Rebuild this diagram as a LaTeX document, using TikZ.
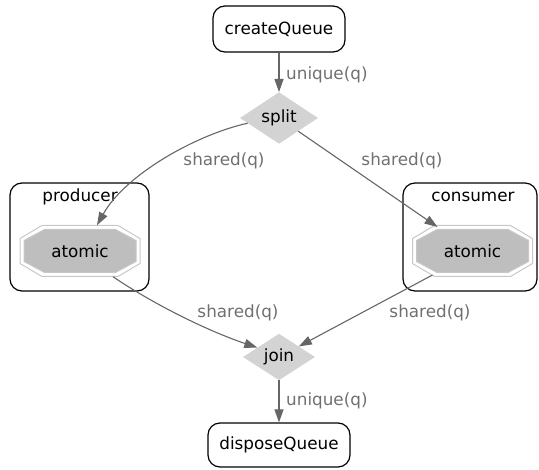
\documentclass[tikz,border=0pt]{standalone}
\usepackage{fontspec}
\setmainfont{DejaVu Sans}
\usetikzlibrary{shapes.geometric,arrows.meta,calc}
\definecolor{edgec}{HTML}{666666}
\definecolor{labc}{HTML}{707070}
\definecolor{diamc}{HTML}{D3D3D3}
\definecolor{octfill}{HTML}{BEBEBE}
\definecolor{octline}{HTML}{C8C8C8}
\newcommand\drawOcta[1]{%
  \draw[octline, line width=1pt]
    ($(#1)+(-60,-12.5)$) -- ($(#1)+(-38,-25.5)$) -- ($(#1)+(38,-25.5)$) -- ($(#1)+(60,-12.5)$) --
    ($(#1)+(60,12.5)$) -- ($(#1)+(38,25.5)$) -- ($(#1)+(-38,25.5)$) -- ($(#1)+(-60,12.5)$) -- cycle;
  \draw[octline, fill=octfill, line width=1pt]
    ($(#1)+(-56,-10.5)$) -- ($(#1)+(-35.5,-21.5)$) -- ($(#1)+(35.5,-21.5)$) -- ($(#1)+(56,-10.5)$) --
    ($(#1)+(56,10.5)$) -- ($(#1)+(35.5,21.5)$) -- ($(#1)+(-35.5,21.5)$) -- ($(#1)+(-56,10.5)$) -- cycle;
}
\begin{document}
\begin{tikzpicture}[x=1pt,y=-1pt,
  every node/.style={font=\fontsize{16.8}{20}\selectfont, inner sep=0pt},
  termbox/.style={draw, rounded corners=12pt, line width=1.2pt},
  decide/.style={diamond, fill=diamc, minimum width=78pt, minimum height=46pt},
  octnode/.style={rectangle, minimum width=120pt, minimum height=51pt},
  cluster/.style={draw, rounded corners=12pt, line width=1.2pt},
  edge/.style={draw=edgec, line width=1.1pt, -{Triangle[length=13pt,width=9pt]}, color=edgec},
  elab/.style={text=labc}
]
\useasboundingbox (0,0) rectangle (539,470);

% clusters
\node[cluster, minimum width=139pt, minimum height=108pt] (clp) at (79.5,237) {};
\node[cluster, minimum width=134pt, minimum height=108pt] (clc) at (470,237) {};
\node (clpl) at (80,197) {producer};
\node (clcl) at (473,197) {consumer};

% nodes
\node[termbox, minimum width=132pt, minimum height=46pt] (cq) at (279,29) {createQueue};
\node[decide] (split) at (279,118) {split};
\node[octnode] (pa) at (80,251) {};
\node[octnode] (pc) at (472.5,251) {};
\drawOcta{pa}
\drawOcta{pc}
\node at (pa) {atomic};
\node at (pc) {atomic};
\node[decide, minimum width=72pt, minimum height=45pt] (join) at (279,357) {join};
\node[termbox, minimum width=142pt, minimum height=44pt] (dq) at (279,445) {disposeQueue};

% connector end points
\coordinate (sps) at ($(split.west)!0.2!(split.south)$);
\coordinate (pain) at ($(pa.north)+(17,0)$);
\coordinate (paout) at ($(pa.south)+(33,0)$);
\coordinate (jin) at ($(join.west)!0.4!(join.north)$);
\coordinate (pcin) at ($(pc)+(-35,-24)$);
\coordinate (pcout) at ($(pc)+(-40,24)$);

% edges
\draw[edge] (cq) -- (split);
\draw[edge] (sps) .. controls (195,135) and (125,175) .. (pain);
\draw[edge] (split) -- (pcin);
\draw[edge] (paout) .. controls (150,302) and (205,330) .. (jin);
\draw[edge] (pcout) -- (join);
\draw[edge] (join) -- (dq);

% labels
\node[elab, anchor=west] (l1) at (286,75) {unique(q)};
\node[elab] (l2) at (224,161) {shared(q)};
\node[elab] (l3) at (402,161) {shared(q)};
\node[elab] (l4) at (238,313) {shared(q)};
\node[elab] (l5) at (430,313) {shared(q)};
\node[elab, anchor=west] (l6) at (286,401) {unique(q)};
\end{tikzpicture}
\end{document}
